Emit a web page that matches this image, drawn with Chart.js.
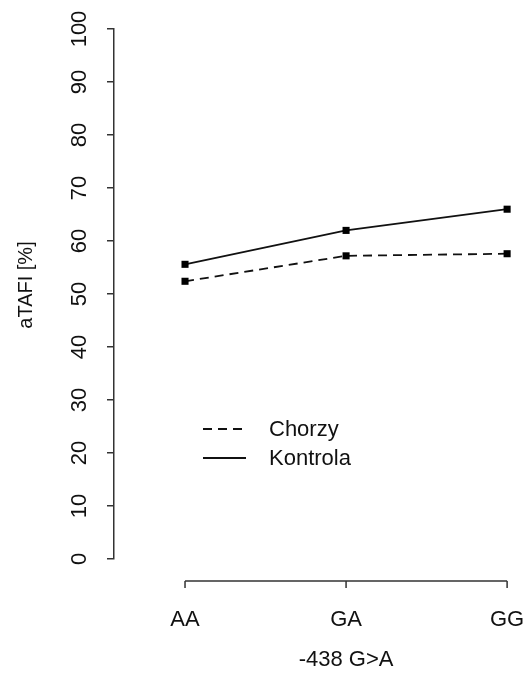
<!DOCTYPE html>
<html>
<head>
<meta charset="utf-8">
<script src="https://cdn.jsdelivr.net/npm/chart.js@4"></script>
<style>
  html, body { margin: 0; padding: 0; background: #fff; }
  #wrap { width: 525px; height: 677px; }
</style>
</head>
<body>
<div id="wrap"><canvas id="aTafiChart" width="525" height="677"></canvas></div>
<script>
const genotypes = ['AA', 'GA', 'GG'];
const chorzy = [52.4, 57.2, 57.6];
const kontrola = [55.6, 62.0, 66.0];
const seriesNames = ['Chorzy', 'Kontrola'];
const yTicks = [0, 10, 20, 30, 40, 50, 60, 70, 80, 90, 100];
const xTitle = '-438 G>A';
const yTitle = 'aTAFI [%]';

const FONT = "'Liberation Sans', Arial, sans-serif";
const INK = '#111';

// R-style detached x axis, axis titles and the legend in the plot area
const rAxisAndLegend = {
  id: 'rAxisAndLegend',
  afterDraw(chart) {
    const { ctx, scales: { x }, chartArea } = chart;
    const yLine = chartArea.bottom + 22;
    const x0 = x.getPixelForValue(0);
    const x1 = x.getPixelForValue(genotypes.length - 1);
    ctx.save();
    ctx.strokeStyle = '#333';
    ctx.lineWidth = 1.5;
    ctx.beginPath();
    ctx.moveTo(x0, yLine);
    ctx.lineTo(x1, yLine);
    genotypes.forEach((g, i) => {
      const px = x.getPixelForValue(i);
      ctx.moveTo(px, yLine);
      ctx.lineTo(px, yLine + 7);
    });
    ctx.stroke();

    ctx.fillStyle = INK;
    ctx.font = `22px ${FONT}`;
    ctx.textAlign = 'center';
    ctx.textBaseline = 'middle';
    ctx.fillText(xTitle, (x0 + x1) / 2, 660);

    ctx.save();
    ctx.translate(26, 285);
    ctx.rotate(-Math.PI / 2);
    ctx.font = `20px ${FONT}`;
    ctx.fillText(yTitle, 0, 0);
    ctx.restore();

    const lx = 203;
    const ly = 429;
    ctx.textAlign = 'left';
    chart.data.datasets.forEach((ds, i) => {
      const ry = ly + i * 29;
      ctx.setLineDash(ds.borderDash || []);
      ctx.lineWidth = 2;
      ctx.strokeStyle = INK;
      ctx.beginPath();
      ctx.moveTo(lx, ry);
      ctx.lineTo(lx + 43, ry);
      ctx.stroke();
      ctx.setLineDash([]);
      ctx.font = `22px ${FONT}`;
      ctx.fillText(ds.label, lx + 66, ry + 1);
    });
    ctx.restore();
  },
};

const ctx = document.getElementById('aTafiChart').getContext('2d');
const chart = new Chart(ctx, {
  type: 'line',
  data: {
    datasets: [
      {
        label: seriesNames[0],
        data: chorzy.map((v, i) => ({ x: i, y: v })),
        borderColor: INK,
        borderWidth: 1.8,
        borderDash: [9, 6],
        pointStyle: 'rect',
        pointRadius: 5,
        pointBackgroundColor: '#000',
        pointBorderWidth: 0,
      },
      {
        label: seriesNames[1],
        data: kontrola.map((v, i) => ({ x: i, y: v })),
        borderColor: INK,
        borderWidth: 1.8,
        pointStyle: 'rect',
        pointRadius: 5,
        pointBackgroundColor: '#000',
        pointBorderWidth: 0,
      },
    ],
  },
  options: {
    responsive: false,
    animation: false,
    layout: { padding: { left: 0, top: 29, right: 1, bottom: 0 } },
    plugins: {
      legend: { display: false },
      tooltip: { enabled: false },
    },
    scales: {
      x: {
        type: 'linear',
        min: -0.441,
        max: 2.08,
        afterBuildTicks: (scale) => {
          scale.ticks = genotypes.map((g, i) => ({ value: i }));
        },
        afterFit: (scale) => {
          scale.height = 118;
          scale.paddingRight = 0;
          scale.paddingLeft = 0;
        },
        grid: { display: false, drawTicks: true, tickLength: 46 },
        border: { display: false },
        ticks: {
          padding: 2,
          color: INK,
          font: { family: FONT, size: 22 },
          callback: (value) => genotypes[value],
          maxRotation: 0,
        },
      },
      y: {
        min: 0,
        max: 100,
        afterBuildTicks: (scale) => {
          scale.ticks = yTicks.map((v) => ({ value: v }));
        },
        afterFit: (scale) => {
          scale.width = 114;
        },
        grid: { drawOnChartArea: false, tickLength: 7, color: '#333', lineWidth: 1.5 },
        border: { display: true, color: '#333', width: 1.5 },
        ticks: {
          padding: 9,
          color: INK,
          crossAlign: 'center',
          minRotation: 90,
          maxRotation: 90,
          font: { family: FONT, size: 22 },
        },
      },
    },
  },
  plugins: [rAxisAndLegend],
});
</script>
</body>
</html>
